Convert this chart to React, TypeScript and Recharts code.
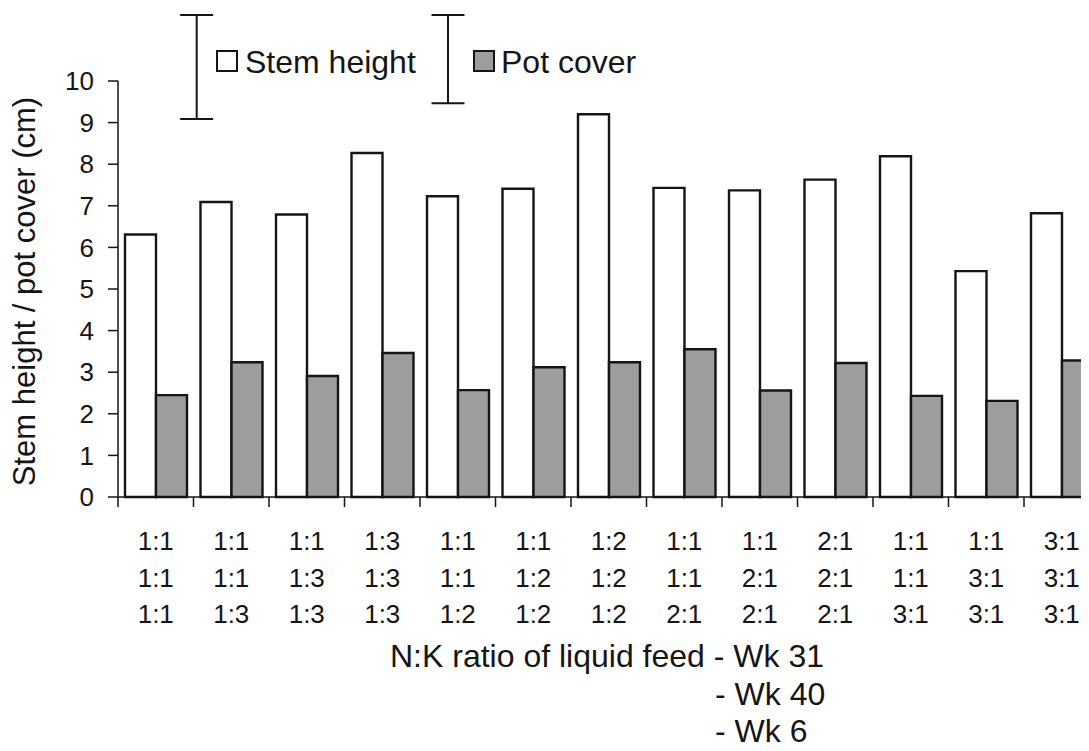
import React from "react";
import { BarChart, Bar, XAxis, YAxis, Customized } from "recharts";

// ---- data ----
const wk31Ratios = ["1:1", "1:1", "1:1", "1:3", "1:1", "1:1", "1:2", "1:1", "1:1", "2:1", "1:1", "1:1", "3:1"];
const wk40Ratios = ["1:1", "1:1", "1:3", "1:3", "1:1", "1:2", "1:2", "1:1", "2:1", "2:1", "1:1", "3:1", "3:1"];
const wk6Ratios = ["1:1", "1:3", "1:3", "1:3", "1:2", "1:2", "1:2", "2:1", "2:1", "2:1", "3:1", "3:1", "3:1"];
const stemHeight = [6.31, 7.09, 6.79, 8.27, 7.23, 7.41, 9.2, 7.43, 7.37, 7.63, 8.19, 5.43, 6.82];
const potCover = [2.45, 3.24, 2.91, 3.46, 2.57, 3.12, 3.24, 3.55, 2.56, 3.22, 2.43, 2.31, 3.28];
const yTicks = [0, 1, 2, 3, 4, 5, 6, 7, 8, 9, 10];
const lsdStem = 2.5;
const lsdPot = 2.12;

const data = wk31Ratios.map((r, i) => ({
  name: `${r}/${wk40Ratios[i]}/${wk6Ratios[i]}`,
  stem: stemHeight[i],
  pot: potCover[i],
}));

// ---- layout ----
const FONT = "'Liberation Sans', Arial, Helvetica, sans-serif";
const W = 1100;
const H = 743;
const M = { top: 73, right: 8.5, bottom: 0, left: 0 };
const Y_AXIS_W = 110;
const X_AXIS_H = 254;
const PLOT_W = W - M.left - M.right - Y_AXIS_W;
const PLOT_H = H - M.top - M.bottom - X_AXIS_H;
const CAT_W = PLOT_W / data.length;
const Y_MAX = 10;
const INK = "#151515";
const GRAY = "#9d9d9d";

const XTick = (props: any) => {
  const { x, y, index } = props;
  const rows = [wk31Ratios[index], wk40Ratios[index], wk6Ratios[index]];
  const bx = x - CAT_W / 2;
  return (
    <g>
      <line x1={bx} x2={bx} y1={y} y2={y + 10} stroke={INK} strokeWidth={1.5} />
      {rows.map((t, i) => (
        <text
          key={i}
          x={x}
          y={y + 53 + i * 36.5}
          textAnchor="middle"
          fontFamily={FONT}
          fontSize={26}
          fill={INK}
        >
          {t}
        </text>
      ))}
    </g>
  );
};

const Decorations = () => {
  const unit = PLOT_H / Y_MAX;
  const topY = 7;
  const errBar = (cx: number, len: number) => (
    <g stroke={INK} strokeWidth={2}>
      <line x1={cx} x2={cx} y1={topY} y2={topY + len * unit} />
      <line x1={cx - 16.5} x2={cx + 16.5} y1={topY} y2={topY} />
      <line x1={cx - 16.5} x2={cx + 16.5} y1={topY + len * unit} y2={topY + len * unit} />
    </g>
  );
  return (
    <g>
      {/* legend */}
      {errBar(188.7, lsdStem)}
      <rect x={209} y={43} width={20} height={20} fill="#fff" stroke={INK} strokeWidth={2} />
      <text x={237} y={65} fontFamily={FONT} fontSize={32} fill={INK}>
        Stem height
      </text>
      {errBar(440, lsdPot)}
      <rect x={466} y={43} width={20} height={20} fill={GRAY} stroke={INK} strokeWidth={2} />
      <text x={493} y={65} fontFamily={FONT} fontSize={32} fill={INK}>
        Pot cover
      </text>
      {/* y-axis title */}
      <text
        x={27}
        y={283.5}
        transform="rotate(-90 27 283.5)"
        textAnchor="middle"
        fontFamily={FONT}
        fontSize={31}
        fill={INK}
      >
        Stem height / pot cover (cm)
      </text>
      {/* x-axis title */}
      <text x={382} y={659} fontFamily={FONT} fontSize={32} fill={INK}>
        N:K ratio of liquid feed - Wk 31
      </text>
      <text x={707} y={697} fontFamily={FONT} fontSize={32} fill={INK}>
        - Wk 40
      </text>
      <text x={707} y={734} fontFamily={FONT} fontSize={32} fill={INK}>
        - Wk 6
      </text>
    </g>
  );
};

export default function App() {
  return (
    <div style={{ width: 1081, height: 743, overflow: "hidden", background: "#fff" }}>
      <BarChart width={W} height={H} data={data} margin={M} barCategoryGap={7} barGap={0}>
        <XAxis
          dataKey="name"
          height={X_AXIS_H}
          tickSize={0}
          tickMargin={0}
          tickLine={false}
          axisLine={{ stroke: INK, strokeWidth: 1.5 }}
          interval={0}
          tick={<XTick />}
        />
        <YAxis
          width={Y_AXIS_W}
          domain={[0, Y_MAX]}
          ticks={yTicks}
          interval={0}
          tickSize={10}
          tickMargin={14}
          axisLine={{ stroke: INK, strokeWidth: 1.5 }}
          tickLine={{ stroke: INK, strokeWidth: 1.5 }}
          tick={{ fontSize: 26, fill: INK, fontFamily: FONT }}
        />
        <Bar dataKey="stem" fill="#ffffff" stroke={INK} strokeWidth={2.4} isAnimationActive={false} />
        <Bar dataKey="pot" fill={GRAY} stroke={INK} strokeWidth={2.4} isAnimationActive={false} />
        <Customized component={Decorations} />
      </BarChart>
    </div>
  );
}
